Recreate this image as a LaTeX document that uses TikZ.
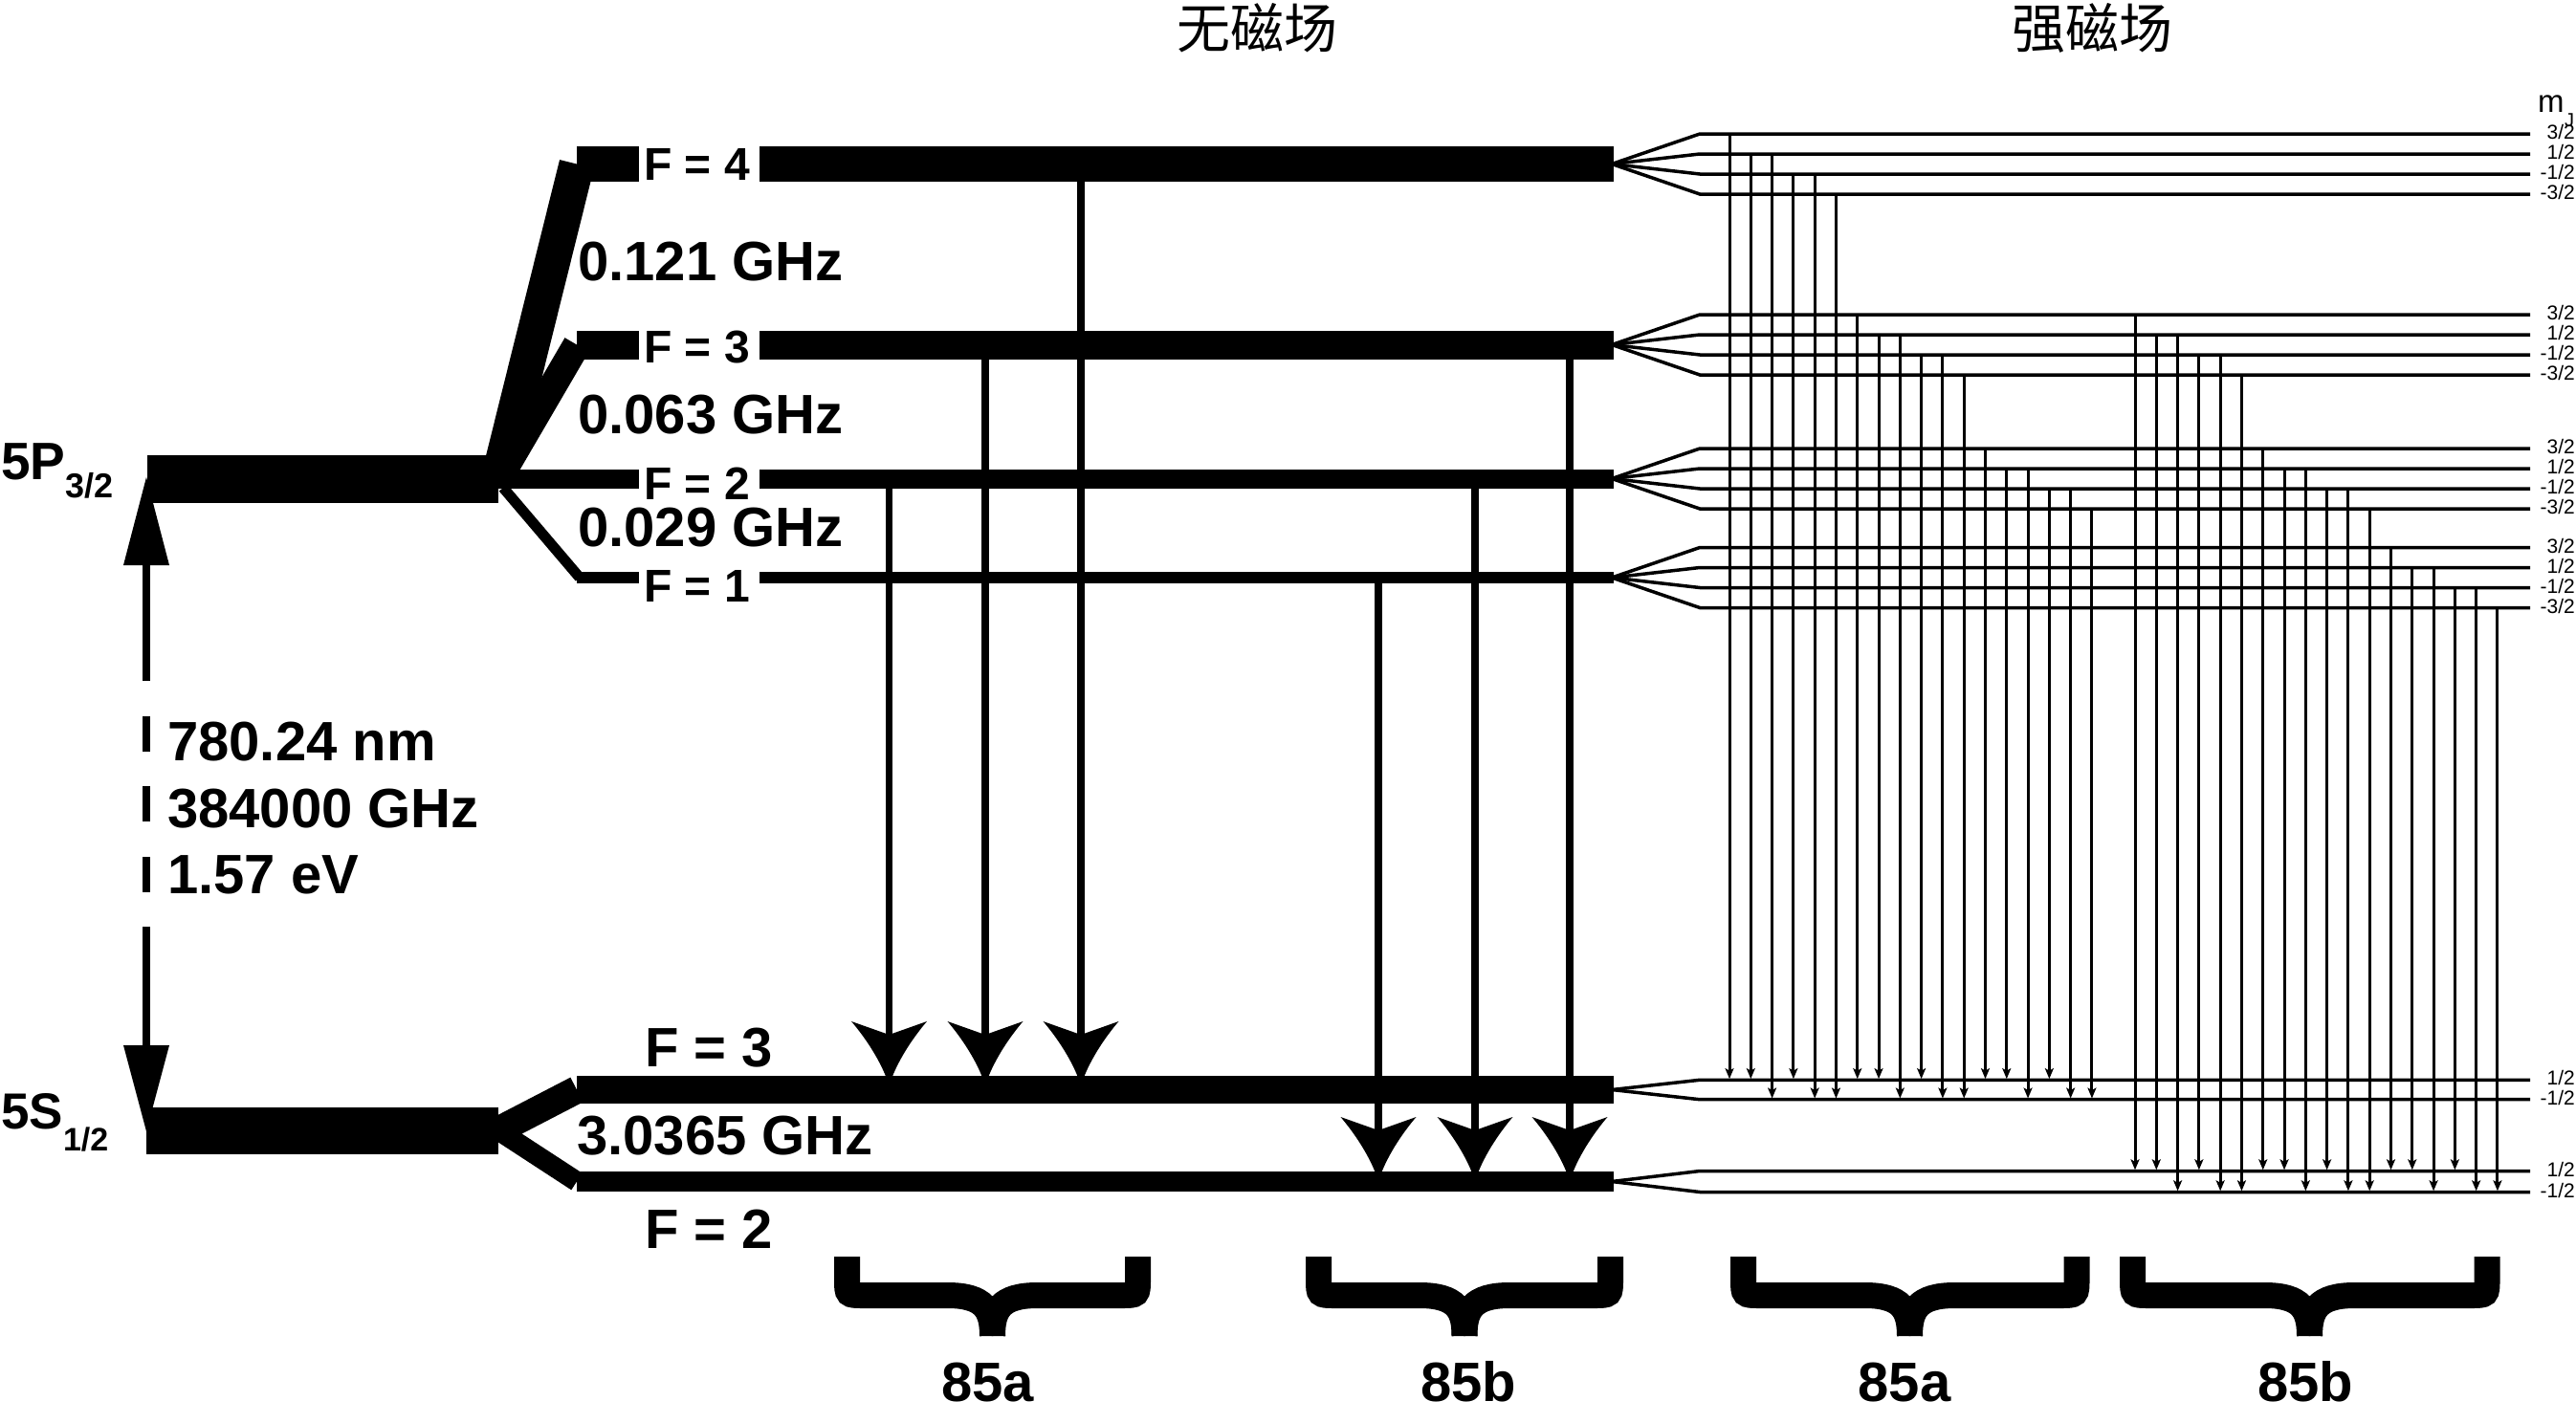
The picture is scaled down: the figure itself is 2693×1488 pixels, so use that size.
\documentclass[tikz,border=0pt]{standalone}
\usepackage{fontspec}
\setmainfont{Liberation Sans}
\newfontfamily\cjkfont{Noto Sans CJK SC}
\usetikzlibrary{arrows.meta}
\newcommand{\myfs}[1]{\fontsize{#1}{#1}\selectfont}
% big concave arrow head: x, y of tip
\newcommand{\zfhead}[2]{\fill (#1-39.5,#2-67) .. controls (#1-25,#2-50) and (#1-8,#2-25) .. (#1,#2) .. controls (#1+8,#2-25) and (#1+25,#2-50) .. (#1+39.5,#2-67) -- (#1,#2-53) -- cycle;}
% under-brace: left x, right x, centre x
\newcommand{\hbrace}[3]{%
\draw[bracestroke] (#1+13.5,1314) -- (#1+13.5,1337) .. controls (#1+13.5,1354.5) .. (#1+31,1354.5) -- (#3-47,1354.5) .. controls (#3-8,1354.5) and (#3,1370) .. (#3,1397);
\draw[bracestroke] (#2-13.5,1314) -- (#2-13.5,1337) .. controls (#2-13.5,1354.5) .. (#2-31,1354.5) -- (#3+47,1354.5) .. controls (#3+8,1354.5) and (#3,1370) .. (#3,1397);}
\begin{document}
\begin{tikzpicture}[x=1pt,y=-1pt,
  lvl/.style={fill=black},
  zfline/.style={line width=7.7pt},
  mjline/.style={line width=3.5pt},
  sfarrow/.style={line width=3pt,-{Stealth[length=11pt,width=9pt,inset=2.5pt]}},
  bracestroke/.style={line width=27pt},
  boldlab/.style={inner sep=0pt,font=\bfseries\myfs{58}},
  flab/.style={inner sep=0pt,anchor=base west,font=\bfseries\myfs{48}},
  mjlab/.style={inner sep=0pt,anchor=east,font=\myfs{21}},
  titlelab/.style={inner sep=0pt,anchor=base,font=\cjkfont\myfs{56}}]
\useasboundingbox[fill=white] (0,0) rectangle (2693,1488);

% ---------- titles ----------
\node[titlelab] (t1) at (1314,51) {无磁场};
\node[titlelab] (t2) at (2187.5,51) {强磁场};

% ---------- left big arrow ----------
\fill (153,499) -- (129,591) -- (177,591) -- cycle;
\fill (153,1183) -- (129,1093) -- (177,1093) -- cycle;
\draw[line width=8pt] (153,589) -- (153,712);
\draw[line width=8pt] (153,749) -- (153,786);
\draw[line width=8pt] (153,822) -- (153,859);
\draw[line width=8pt] (153,896) -- (153,933);
\draw[line width=8pt] (153,969) -- (153,1095);
\node[boldlab,anchor=base west] (l1) at (175,795) {780.24 nm};
\node[boldlab,anchor=base west] (l2) at (175,865) {384000 GHz};
\node[boldlab,anchor=base west] (l3) at (175,934) {1.57 eV};

% ---------- fine-structure levels ----------
\fill[lvl] (154,476) rectangle (521,526);
\fill[lvl] (153,1158) rectangle (521,1207);
\node[inner sep=0pt,anchor=base west,font=\bfseries] (p32) at (1,501)
  {\myfs{55}5P\raisebox{-19pt}{\myfs{36}3/2}};
\node[inner sep=0pt,anchor=base west,font=\bfseries] (s12) at (1,1180)
  {\myfs{53}5S\raisebox{-23pt}{\myfs{34}1/2}};

% ---------- 5P hyperfine fan ----------
\draw[line width=37pt] (521,501) -- (603,171.5);
\draw[line width=29pt] (521,501) -- (603,360.5);
\draw[line width=11pt] (526,510) -- (606,604);
\fill[lvl] (603,153) rectangle (668,190);
\fill[lvl] (603,346) rectangle (668,375.5);
\fill[lvl] (519,490.5) rectangle (668,511);
\fill[lvl] (603,597.5) rectangle (668,610);
\fill[lvl] (794,153) rectangle (1687,190);
\fill[lvl] (794,346) rectangle (1687,375.5);
\fill[lvl] (794,490.5) rectangle (1687,511);
\fill[lvl] (794,597.5) rectangle (1687,610);
\node[flab] (f4) at (673,188.5) {F = 4};
\node[flab] (f3) at (673,379) {F = 3};
\node[flab] (f2) at (673,522) {F = 2};
\node[flab] (f1) at (673,629) {F = 1};
\node[boldlab,anchor=base west] (g1) at (604,293) {0.121 GHz};
\node[boldlab,anchor=base west] (g2) at (604,453) {0.063 GHz};
\node[boldlab,anchor=base west] (g3) at (604,571) {0.029 GHz};

% ---------- 5S hyperfine fan ----------
\draw[line width=29pt] (521,1182) -- (603,1139.5);
\draw[line width=21pt] (521,1182) -- (603,1235.5);
\fill[lvl] (603,1125) rectangle (1687,1154);
\fill[lvl] (603,1225) rectangle (1687,1246);
\node[boldlab,anchor=base west] (sf3) at (674,1115) {F = 3};
\node[boldlab,anchor=base west] (sf2) at (674,1305) {F = 2};
\node[boldlab,anchor=base west] (g4) at (603,1207) {3.0365 GHz};

% ---------- zero-field transitions ----------
\draw[zfline] (1130,171.5) -- (1130,1090); \zfhead{1130}{1135}
\draw[zfline] (1030,360.5) -- (1030,1090); \zfhead{1030}{1135}
\draw[zfline] (929.5,500.5) -- (929.5,1090); \zfhead{929.5}{1135}
\draw[zfline] (1441,604) -- (1441,1190); \zfhead{1441}{1235}
\draw[zfline] (1542,500.5) -- (1542,1190); \zfhead{1542}{1235}
\draw[zfline] (1641,360.5) -- (1641,1190); \zfhead{1641}{1235}

% ---------- strong-field sublevels ----------
\foreach \c in {171.5,360.5,500.5,604} {
  \foreach \o in {-31.5,-10.5,10.5,31.5}
    \draw[mjline] (1685,\c) -- (1777,{\c+(\o)}) -- (2645,{\c+(\o)});
  \node[mjlab] at (2692,{\c-33.5}) {3/2};
  \node[mjlab] at (2692,{\c-12.5}) {1/2};
  \node[mjlab] at (2692,{\c+8.5}) {-1/2};
  \node[mjlab] at (2692,{\c+29.5}) {-3/2};
}
\foreach \o in {-10.2,10.2}
  \draw[mjline] (1685,1139.5) -- (1777,{1139.5+(\o)}) -- (2645,{1139.5+(\o)});
\foreach \o in {-11,11}
  \draw[mjline] (1685,1235.5) -- (1777,{1235.5+(\o)}) -- (2645,{1235.5+(\o)});
\node[mjlab] at (2692,1127.3) {1/2};
\node[mjlab] at (2692,1147.7) {-1/2};
\node[mjlab] at (2692,1222.5) {1/2};
\node[mjlab] at (2692,1244.5) {-1/2};
\node[inner sep=0pt,anchor=base west,font=\myfs{33}] (mJ) at (2653,117) {m};
\node[inner sep=0pt,anchor=base west,font=\myfs{20}] (mJs) at (2681,132) {J};

% ---------- strong-field transitions ----------
\foreach \b/\c in {0/171.5,1/360.5,2/500.5} {
  \foreach \j/\sv/\tv in {0/-31.5/-1,1/-10.5/-1,2/-10.5/1,3/10.5/-1,4/10.5/1,5/31.5/1}
    \draw[sfarrow] ({1808+22.29*(6*\b+\j)},{\c+(\sv)}) -- ({1808+22.29*(6*\b+\j)},{1139.5+10.2*(\tv)-1.2});
}
\foreach \b/\c in {0/360.5,1/500.5,2/604} {
  \foreach \j/\sv/\tv in {0/-31.5/-1,1/-10.5/-1,2/-10.5/1,3/10.5/-1,4/10.5/1,5/31.5/1}
    \draw[sfarrow] ({2232+22.29*(6*\b+\j)},{\c+(\sv)}) -- ({2232+22.29*(6*\b+\j)},{1235.5+11*(\tv)-1.2});
}

% ---------- braces ----------
\hbrace{872}{1203}{1037.5}
\hbrace{1365}{1697}{1531}
\hbrace{1809}{2184.5}{1996.5}
\hbrace{2216}{2613.5}{2414.5}
\node[boldlab,anchor=base] (b1) at (1032.5,1465) {85a};
\node[boldlab,anchor=base] (b2) at (1535,1465) {85b};
\node[boldlab,anchor=base] (b3) at (1991,1465) {85a};
\node[boldlab,anchor=base] (b4) at (2410,1465) {85b};
\end{tikzpicture}
\end{document}
